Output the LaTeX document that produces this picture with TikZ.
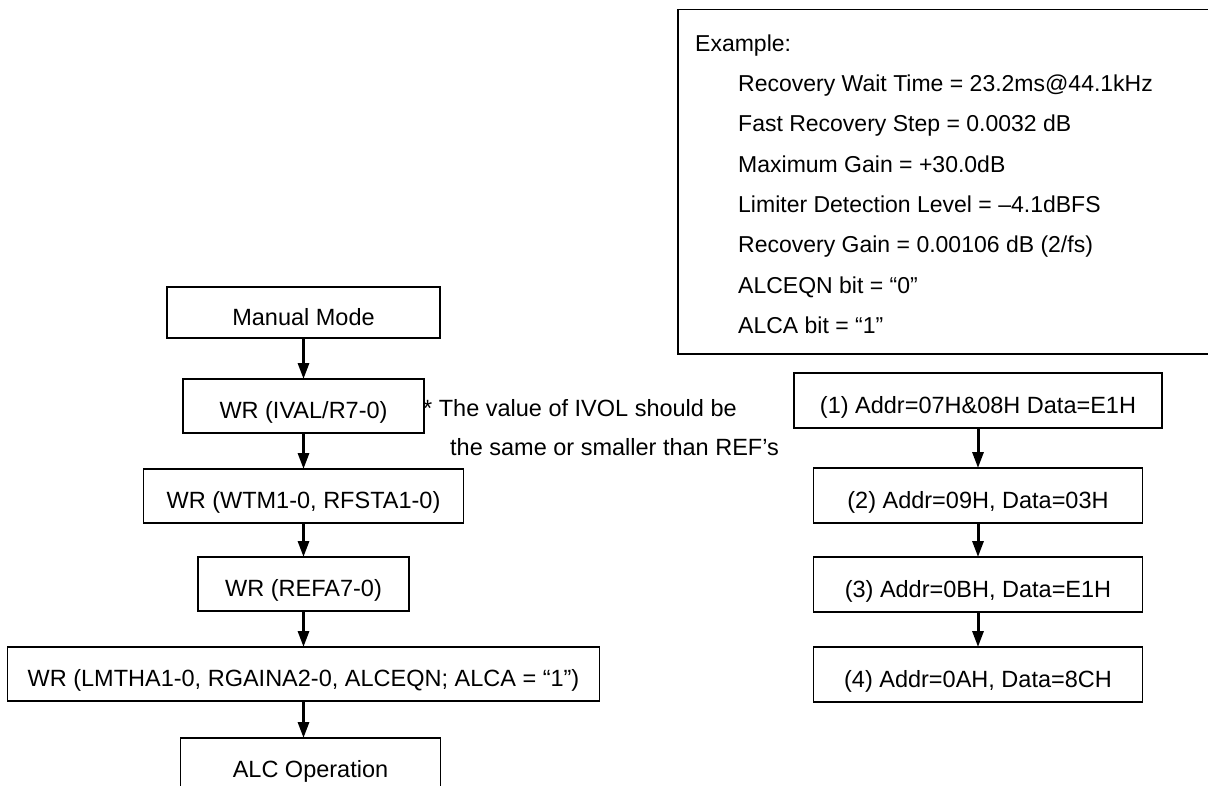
\documentclass[tikz,border=0pt]{standalone}
\usepackage{fontspec}
\setmainfont{Liberation Sans}
\usetikzlibrary{arrows.meta,positioning}

\tikzset{
  stepbox/.style={draw, line width=1.6pt, inner sep=0pt, outer sep=0pt,
    text height=25pt, text depth=0pt, minimum height=54pt,
    font=\fontsize{23.5}{28}\selectfont},
  flow/.style={-{Triangle[length=16pt,width=11pt]}, line width=3pt},
  notetext/.style={anchor=base west, inner sep=0pt, font=\fontsize{23.5}{28}\selectfont},
  extext/.style={anchor=base west, inner sep=0pt, font=\fontsize{23}{28}\selectfont},
}

\begin{document}
\begin{tikzpicture}[x=1pt, y=-1pt]
  \useasboundingbox[fill=white] (0,0) rectangle (1208,785);
  \clip (0,0) rectangle (1208,785);

  % left column
  \node[stepbox, minimum width=273pt, minimum height=51pt] (manual) at (303.5,312.5) {Manual Mode};
  \node[stepbox, minimum width=241pt, below=41pt of manual] (ival) {WR (IVAL/R7-0)};
  \node[stepbox, minimum width=320pt, below=36pt of ival] (wtm) {WR (WTM1-0, RFSTA1-0)};
  \node[stepbox, minimum width=211pt, below=34pt of wtm] (refa) {WR (REFA7-0)};
  \node[stepbox, minimum width=592pt, below=36pt of refa] (lmtha) {WR (LMTHA1-0, RGAINA2-0, ALCEQN; ALCA = “1”)};
  \node[stepbox, minimum width=260pt, below=37pt of lmtha, xshift=7pt] (alc) {ALC Operation};

  \draw[flow] (manual) -- (ival);
  \draw[flow] (ival) -- (wtm);
  \draw[flow] (wtm) -- (refa);
  \draw[flow] (refa) -- (lmtha);
  \draw[flow] (lmtha.south) -- (lmtha.south |- alc.north);

  % note
  \node[notetext] (note1) at (423,416.4) {* The value of IVOL should be};
  \node[notetext] (note2) at (450,455.4) {the same or smaller than REF’s};

  % right column
  \node[stepbox, minimum width=368pt, minimum height=55pt] (addr1) at (978,400.5) {(1) Addr=07H\&08H Data=E1H};
  \node[stepbox, minimum width=329pt, minimum height=55pt, below=40pt of addr1] (addr2) {(2) Addr=09H, Data=03H};
  \node[stepbox, minimum width=329pt, minimum height=55pt, below=34pt of addr2] (addr3) {(3) Addr=0BH, Data=E1H};
  \node[stepbox, minimum width=329pt, minimum height=55pt, below=35pt of addr3] (addr4) {(4) Addr=0AH, Data=8CH};

  \foreach \a/\b in {addr1/addr2, addr2/addr3, addr3/addr4}
    \draw[flow] (\a) -- (\b);

  % example box
  \node[draw, line width=1.6pt, minimum width=562pt, minimum height=344.5pt] (example) at (959,181.75) {};
  \node[extext] (ex0) at (695,51.25) {Example:};
  \foreach \txt [count=\i] in {{Recovery Wait Time = 23.2ms@44.1kHz},
      {Fast Recovery Step = 0.0032 dB}, {Maximum Gain = +30.0dB},
      {Limiter Detection Level = –4.1dBFS}, {Recovery Gain = 0.00106 dB (2/fs)},
      {ALCEQN bit = “0”}, {ALCA bit = “1”}}
    \node[extext] (ex\i) at (738,51.25+40.3*\i) {\txt};
\end{tikzpicture}
\end{document}
